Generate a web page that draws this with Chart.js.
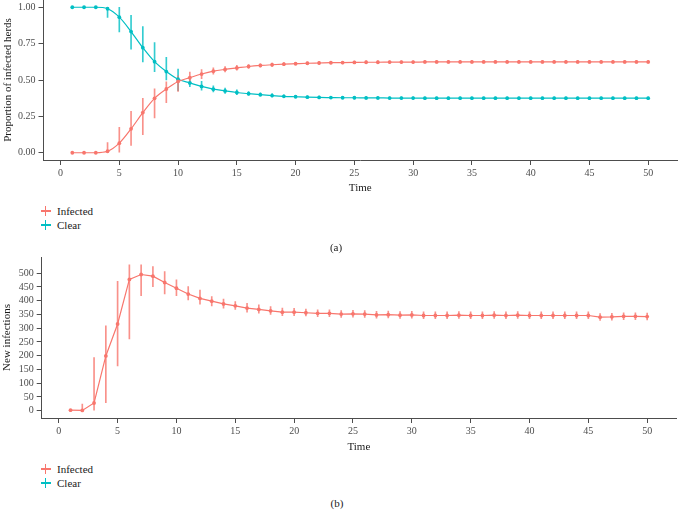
<!DOCTYPE html>
<html>
<head>
<meta charset="utf-8">
<script src="https://cdn.jsdelivr.net/npm/chart.js@4.4.1/dist/chart.umd.min.js"></script>
<style>
  html, body { margin:0; padding:0; background:#fff; }
  body { width:678px; height:511px; position:relative; overflow:hidden; font-family:"Liberation Serif","DejaVu Serif",serif; }
  canvas { position:absolute; left:0; }
  #ca { top:0; }
  #cb { top:250px; }
  .leg { position:absolute; left:0; height:14px; font-family:"Liberation Serif",serif; font-size:11px; line-height:14px; color:#1a1a1a; }
  .leg .cross { position:absolute; left:40.5px; top:2px; width:10px; height:10px; }
  .leg .cross:before { content:""; position:absolute; left:0; top:4.3px; width:10px; height:1.3px; background:var(--c); }
  .leg .cross:after { content:""; position:absolute; left:4.3px; top:0; width:1.3px; height:10px; background:var(--c); }
  .leg .txt { position:absolute; left:57px; top:0; white-space:nowrap; }
  .sub { position:absolute; font-family:"Liberation Serif",serif; font-size:11px; color:#1a1a1a; width:60px; text-align:center; }
</style>
</head>
<body>
<canvas id="ca" width="678" height="195"></canvas>
<canvas id="cb" width="678" height="204"></canvas>

<div class="leg" style="top:204px;--c:#F8766D"><span class="cross"></span><span class="txt">Infected</span></div>
<div class="leg" style="top:218px;--c:#00BFC4"><span class="cross"></span><span class="txt">Clear</span></div>
<div class="sub" style="left:306px;top:241px;">(a)</div>

<div class="leg" style="top:462px;--c:#F8766D"><span class="cross"></span><span class="txt">Infected</span></div>
<div class="leg" style="top:476px;--c:#00BFC4"><span class="cross"></span><span class="txt">Clear</span></div>
<div class="sub" style="left:307px;top:497px;">(b)</div>

<script>
// ---------- data ----------
const time = [1,2,3,4,5,6,7,8,9,10,11,12,13,14,15,16,17,18,19,20,21,22,23,24,25,26,27,28,29,30,31,32,33,34,35,36,37,38,39,40,41,42,43,44,45,46,47,48,49,50];

// panel (a): proportion of herds
const infected = [0.000,0.000,0.000,0.010,0.066,0.164,0.276,0.374,0.438,0.490,0.516,0.541,0.561,0.573,0.583,0.593,0.600,0.605,0.609,0.612,0.615,0.617,0.619,0.620,0.621,0.622,0.622,0.623,0.623,0.623,0.624,0.624,0.624,0.624,0.624,0.624,0.624,0.624,0.624,0.624,0.624,0.624,0.624,0.624,0.624,0.624,0.624,0.624,0.624,0.624];
const infectedLo = [0,0,0,0,0,0.050,0.125,0.240,0.345,0.422,0.480,0.510,0.540,0.555,0.568,0.580,0.588,0.594,0.599,0.602,0.605,0.607,0.609,0.611,0.612,0.613,0.613,0.614,0.614,0.614,0.615,0.615,0.615,0.615,0.615,0.615,0.615,0.615,0.615,0.615,0.615,0.615,0.615,0.615,0.615,0.615,0.615,0.615,0.615,0.615];
const infectedHi = [0,0,0.005,0.070,0.175,0.285,0.374,0.440,0.488,0.529,0.555,0.572,0.583,0.592,0.600,0.606,0.612,0.616,0.619,0.621,0.624,0.626,0.628,0.629,0.630,0.631,0.631,0.632,0.632,0.632,0.633,0.633,0.633,0.633,0.633,0.633,0.633,0.633,0.633,0.633,0.633,0.633,0.633,0.633,0.633,0.633,0.633,0.633,0.633,0.633];

const clear = [1.000,1.000,1.000,0.990,0.932,0.833,0.722,0.626,0.558,0.505,0.480,0.456,0.437,0.425,0.414,0.406,0.399,0.393,0.388,0.385,0.382,0.380,0.379,0.378,0.378,0.377,0.377,0.376,0.376,0.376,0.375,0.375,0.375,0.375,0.375,0.375,0.375,0.375,0.375,0.375,0.375,0.375,0.375,0.375,0.375,0.375,0.375,0.375,0.375,0.375];
const clearLo = [1,1,1,0.930,0.830,0.712,0.625,0.557,0.500,0.427,0.455,0.430,0.418,0.408,0.400,0.394,0.388,0.384,0.380,0.378,0.375,0.373,0.372,0.371,0.370,0.369,0.369,0.368,0.368,0.368,0.367,0.367,0.367,0.367,0.367,0.367,0.367,0.367,0.367,0.367,0.367,0.367,0.367,0.367,0.367,0.367,0.367,0.367,0.367,0.367];
const clearHi = [1,1,1,1.000,1.000,0.945,0.867,0.757,0.655,0.575,0.520,0.490,0.460,0.445,0.432,0.420,0.412,0.406,0.398,0.395,0.391,0.389,0.388,0.387,0.386,0.385,0.385,0.384,0.384,0.384,0.383,0.383,0.383,0.383,0.383,0.383,0.383,0.383,0.383,0.383,0.383,0.383,0.383,0.383,0.383,0.383,0.383,0.383,0.383,0.383];

// panel (b): new infections
const newInf = [2,1,28,199,315,477,495,489,466,445,424,408,398,388,381,373,368,363,358,358,356,354,354,351,352,351,348,349,347,348,346,346,346,347,346,346,347,346,347,346,346,346,346,346,346,340,341,343,343,342];
const newInfLo = [0,0,0,29,163,261,418,451,424,418,403,387,381,373,368,358,354,350,345,345,344,342,342,339,340,339,336,337,335,336,334,334,334,335,334,334,335,334,335,334,334,334,334,334,334,328,329,331,331,330];
const newInfHi = [5,24,193,308,470,530,530,524,506,476,451,438,415,406,397,390,385,378,373,372,369,367,367,364,365,364,361,362,360,361,359,359,359,360,359,359,360,359,360,359,359,359,359,359,359,353,354,356,356,355];

// ticks
const xTicks = [0,5,10,15,20,25,30,35,40,45,50];
const yTicksA = [0,0.25,0.5,0.75,1];
const yLabelsA = ["0.00","0.25","0.50","0.75","1.00"];
const yTicksB = [0,50,100,150,200,250,300,350,400,450,500];

// ---------- style ----------
const RED = '#F8766D', CYAN = '#00BFC4';
const RED_EB = 'rgba(248,118,109,0.8)', CYAN_EB = 'rgba(0,191,196,0.8)';
const FONT = "'Liberation Serif', 'DejaVu Serif', serif";
const AXC = '#4d4d4d';

const pts = (ys) => time.map((t,i) => ({x:t, y:ys[i]}));
const rng = (lo,hi) => time.map((t,i) => ({x:t, y:[lo[i], hi[i]]}));

function errDs(data, color) {
  return { type:'bar', data, backgroundColor:color, borderWidth:0, barThickness:1, grouped:false, order:3 };
}
function lineDs(data, color, smooth) {
  return { type:'line', data, borderColor:color, backgroundColor:color, borderWidth:1.2,
           pointRadius:1.9, pointBackgroundColor:color, pointBorderWidth:0,
           cubicInterpolationMode: smooth ? 'monotone' : 'default', tension:0, order:1 };
}

function makeOptions(cfg) {
  return {
    responsive:false, animation:false, devicePixelRatio:1,
    layout:{ autoPadding:false, padding:{ left:0, right:cfg.padRight, top:cfg.padTop, bottom:0 } },
    plugins:{ legend:{display:false}, tooltip:{enabled:false} },
    scales:{
      x:{
        type:'linear', offset:false, min:-1.45, max:52.45,
        grid:{ display:true, drawOnChartArea:false, drawTicks:true, tickLength:5, tickColor:AXC, offset:false },
        border:{ display:true, color:AXC, width:1 },
        ticks:{ font:{family:FONT, size:10}, color:AXC, padding:2, maxRotation:0, autoSkip:false },
        afterBuildTicks:(s)=>{ s.ticks = xTicks.map(v=>({value:v})); },
        title:{ display:true, text:'Time', font:{family:FONT, size:11}, color:'#1a1a1a', padding:{top:0,bottom:0} },
        afterFit:(s)=>{ s.height = cfg.xHeight; s.paddingLeft=0; s.paddingRight=0; }
      },
      y:{
        type:'linear', min:cfg.yMin, max:cfg.yMax, beginAtZero:false,
        grid:{ display:true, drawOnChartArea:false, drawTicks:true, tickLength:5, tickColor:AXC },
        border:{ display:true, color:AXC, width:1 },
        ticks:{ font:{family:FONT, size:10}, color:AXC, padding:3, autoSkip:false,
                callback:(v)=> cfg.yLabel(v) },
        afterBuildTicks:(s)=>{ s.ticks = cfg.yTicks.map(v=>({value:v})); },
        title:{ display:true, text:cfg.yTitle, font:{family:FONT, size:11}, color:'#1a1a1a', padding:{top:cfg.yTitlePad,bottom:0} },
        afterFit:(s)=>{ s.width = cfg.yWidth; s.paddingTop=0; s.paddingBottom=0; }
      }
    }
  };
}

new Chart(document.getElementById('ca'), {
  type:'line',
  data:{ datasets:[
    errDs(rng(infectedLo, infectedHi), RED_EB),
    errDs(rng(clearLo, clearHi), CYAN_EB),
    lineDs(pts(infected), RED, true),
    lineDs(pts(clear), CYAN, true)
  ]},
  options: makeOptions({
    padRight:1, padTop:0, xHeight:35, yWidth:43.5, yMin:-0.05, yMax:1.05,
    yTicks:yTicksA, yLabel:(v)=>{ const i=yTicksA.indexOf(v); return i>=0 ? yLabelsA[i] : ''; },
    yTitle:'Proportion of infected herds', yTitlePad:2
  })
});

new Chart(document.getElementById('cb'), {
  type:'line',
  data:{ datasets:[
    errDs(rng(newInfLo, newInfHi), RED_EB),
    lineDs(pts(newInf), RED, false)
  ]},
  options: makeOptions({
    padRight:2, padTop:7, xHeight:36, yWidth:41.7, yMin:-26.6, yMax:558.6,
    yTicks:yTicksB, yLabel:(v)=> String(v),
    yTitle:'New infections', yTitlePad:1
  })
});
</script>
</body>
</html>
